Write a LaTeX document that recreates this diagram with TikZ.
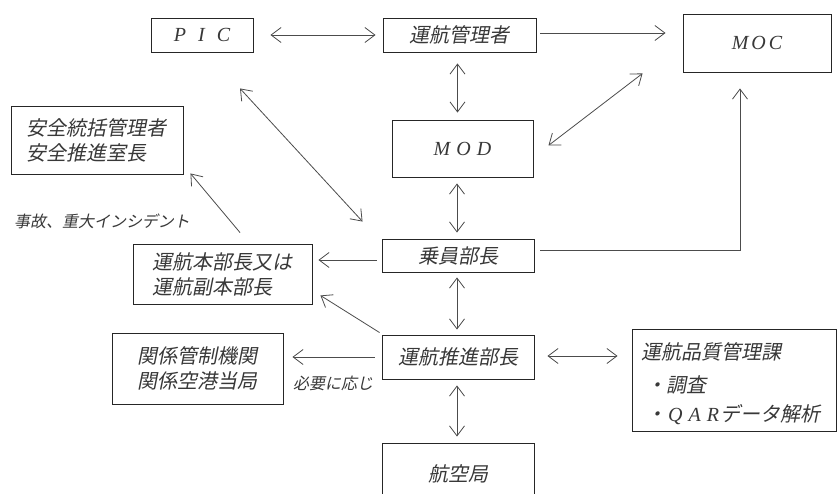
\documentclass[tikz,border=0pt]{standalone}
\usepackage{fontspec}
\usetikzlibrary{arrows.meta,calc}
\newfontfamily\jp[FakeSlant=0.2]{Noto Sans CJK JP}
\newfontfamily\lat{Liberation Serif}
\newcommand{\latt}{\lat\itshape\fontsize{20}{24}\selectfont}
\tikzset{
  >={Straight Barb[length=10pt,width=15pt,line width=0.8pt]},
  box/.style={draw=black!85, line width=0.9pt, inner sep=0pt, align=center,
    font=\jp\fontsize{20}{25}\selectfont, text=black!78},
  arr/.style={draw=black!70, line width=0.8pt, ->},
  darr/.style={draw=black!70, line width=0.8pt, <->},
  lbl/.style={font=\jp\fontsize{16}{19}\selectfont, inner sep=0pt, text=black!78},
  qtxt/.style={font=\jp\fontsize{20}{25}\selectfont, inner sep=0pt, anchor=west, text=black!78},
}
\begin{document}
\begin{tikzpicture}[x=1pt,y=-1pt]
\useasboundingbox (0,0) rectangle (838,494);
\clip (0,0) rectangle (838,494);
\fill[white] (0,0) rectangle (838,494);

% boxes
\node[box, minimum width=102pt, minimum height=34pt] (pic) at (202,35) {\latt P\hspace{12pt}I\hspace{12pt}C};
\node[box, minimum width=153pt, minimum height=34pt] (ops) at (459.5,35) {運航管理者};
\node[box, minimum width=148pt, minimum height=58pt] (moc) at (757,43) {\latt M\hspace{3pt}O\hspace{3pt}C};
\node[box, minimum width=141pt, minimum height=57pt] (mod) at (462.5,148.5) {\latt M\hspace{6pt}O\hspace{6pt}D};
\node[box, minimum width=172pt, minimum height=68pt, align=left] (safety) at (97,140) {安全統括管理者\\安全推進室長};
\node[box, minimum width=152pt, minimum height=33pt] (crew) at (458,255.5) {乗員部長};
\node[box, minimum width=179pt, minimum height=60pt, align=left] (hq) at (222.5,274) {運航本部長又は\\運航副本部長};
\node[box, minimum width=152pt, minimum height=44pt] (prom) at (458,357) {運航推進部長};
\node[box, minimum width=171pt, minimum height=71pt] (atc) at (197.5,368.5) {関係管制機関\\関係空港当局};
\node[box, minimum width=204pt, minimum height=102pt] (qa) at (734,380) {};
\node[box, minimum width=152pt, minimum height=62pt] (jcab) at (458,474) {航空局};

\node[qtxt] (qa1) at (641,352) {運航品質管理課};
\node[qtxt] (qa2) at (646,385) {・調査};
\node[qtxt] (qa3) at (646,415) {・\hspace{2pt}{\latt Q\hspace{6pt}A\hspace{6pt}R}\hspace{1pt}データ解析};

% labels
\node[lbl] (l1) at (102,221) {事故、重大インシデント};
\node[lbl] (l2) at (333,383) {必要に応じ};

% connectors
\draw[darr, shorten <=17pt, shorten >=7pt] (pic.east) -- (ops.west);
\draw[arr] ($(ops.east)+(4,-2)$) -- ($(ops.east -| moc.west)+(-17,-2)$);
\draw[darr, shorten <=11pt, shorten >=7pt] ($(ops.south)+(-2,0)$) -- ($(ops.south |- mod.north)+(-2,0)$);
\draw[darr] ($(mod.east)+(15,-3)$) -- ($(moc.south west)+(-40,1)$);
\draw[darr] ($(pic.south)+(38,36)$) -- ($(crew.north west)+(-19,-17)$);
\draw[arr] ($(hq.north)+(17.5,-11)$) -- ($(safety.south east)+(7,-1)$);
\draw[darr, shorten <=6pt, shorten >=6pt] ($(mod.south -| crew.north)+(-1,0)$) -- ($(crew.north)+(-1,0)$);
\draw[arr] ($(crew.east)+(6,-5)$) -| ($(moc.south)+(-17,16)$);
\draw[arr] ($(crew.west)+(-5,4.5)$) -- ($(hq.east)+(6,-14)$);
\draw[arr] ($(prom.north west)+(-2,-2)$) -- ($(hq.south east)+(8,-9)$);
\draw[darr, shorten <=5pt, shorten >=5pt] ($(crew.south)+(-1,0)$) -- ($(prom.north)+(-1,0)$);
\draw[arr, shorten <=7pt, shorten >=9pt] (prom.west) -- (prom.west -| atc.east);
\draw[darr, shorten <=13pt, shorten >=14pt] ($(prom.east)+(0,-1)$) -- ($(prom.east -| qa.west)+(0,-1)$);
\draw[darr, shorten <=6pt, shorten >=6pt] ($(prom.south)+(-1,0)$) -- ($(jcab.north)+(-1,0)$);
\end{tikzpicture}
\end{document}
